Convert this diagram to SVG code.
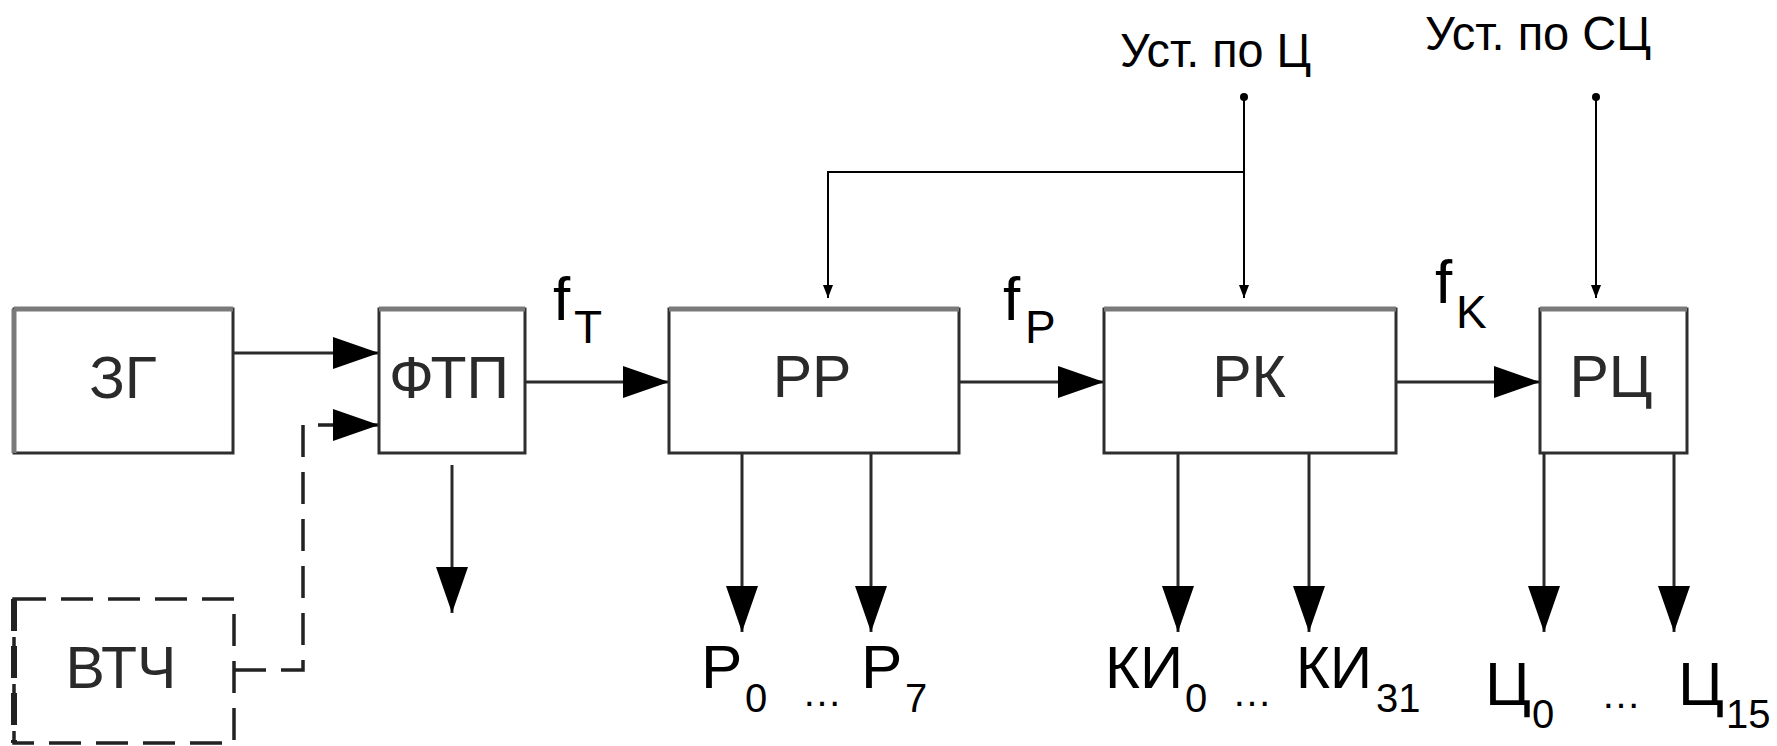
<svg xmlns="http://www.w3.org/2000/svg" width="1777" height="746" viewBox="0 0 1777 746">
<style>
.box{fill:#fff;stroke:#2e2e2e;stroke-width:3}
.top{stroke:#7a7a7a;stroke-width:5}
.dbox{fill:#fff;stroke:#222;stroke-width:3.5;stroke-dasharray:32 15}
.lbl{font-family:"Liberation Sans",Arial,sans-serif;font-size:59px;fill:#2a2a2a;text-anchor:middle}
.t{font-family:"Liberation Sans",Arial,sans-serif;fill:#000}
.c{fill:none;stroke:#2a2a2a;stroke-width:3}
.cd{fill:none;stroke:#222;stroke-width:3.5;stroke-dasharray:32 15}
.thin{fill:none;stroke:#000;stroke-width:2}
</style>
<defs>
<marker id="big" markerUnits="userSpaceOnUse" markerWidth="46" markerHeight="32" refX="46" refY="16" orient="auto" viewBox="0 0 46 32">
<path d="M0,0 L46,16 L0,32 z" fill="#000"/>
</marker>
<marker id="small" markerUnits="userSpaceOnUse" markerWidth="13" markerHeight="10" refX="13" refY="5" orient="auto" viewBox="0 0 13 10">
<path d="M0,0 L13,5 L0,10 z" fill="#000"/>
</marker>
</defs>

<g id="connectors">
<path class="c" d="M233,353 H379" marker-end="url(#big)"/>
<path class="cd" d="M234,670 H303 V425 H379" marker-end="url(#big)"/>
<path class="c" d="M452,465 V613" marker-end="url(#big)"/>
<path class="c" d="M525,382 H669" marker-end="url(#big)"/>
<path class="c" d="M959,382 H1104" marker-end="url(#big)"/>
<path class="c" d="M1396,382 H1540" marker-end="url(#big)"/>
<path class="c" d="M742,453 V632" marker-end="url(#big)"/>
<path class="c" d="M871,453 V632" marker-end="url(#big)"/>
<path class="c" d="M1178,453 V632" marker-end="url(#big)"/>
<path class="c" d="M1309,453 V632" marker-end="url(#big)"/>
<path class="c" d="M1544,453 V632" marker-end="url(#big)"/>
<path class="c" d="M1674,453 V632" marker-end="url(#big)"/>
<path class="thin" d="M1244,97 V298" marker-end="url(#small)"/>
<path class="thin" d="M1244,172 H828 V298" marker-end="url(#small)"/>
<path class="thin" d="M1596,97 V298" marker-end="url(#small)"/>
<circle cx="1244" cy="97" r="4" fill="#000"/>
<circle cx="1596" cy="97" r="4" fill="#000"/>
</g>

<g id="node-zg">
<rect class="box" x="14" y="309" width="219" height="144"/>
<line class="top" x1="14" y1="309" x2="233" y2="309"/>
<line class="top" x1="14" y1="309" x2="14" y2="453"/>
<text class="lbl" x="123" y="398">ЗГ</text>
</g>
<g id="node-ftp">
<rect class="box" x="379" y="309" width="146" height="144"/>
<line class="top" x1="379" y1="309" x2="525" y2="309"/>
<text class="lbl" x="449" y="398">ФТП</text>
</g>
<g id="node-rr">
<rect class="box" x="669" y="309" width="290" height="144"/>
<line class="top" x1="669" y1="309" x2="959" y2="309"/>
<text class="lbl" x="812" y="397">РР</text>
</g>
<g id="node-rk">
<rect class="box" x="1104" y="309" width="292" height="144"/>
<line class="top" x1="1104" y1="309" x2="1396" y2="309"/>
<text class="lbl" x="1249" y="397">РК</text>
</g>
<g id="node-rc">
<rect class="box" x="1540" y="309" width="147" height="144"/>
<line class="top" x1="1540" y1="309" x2="1687" y2="309"/>
<text class="lbl" x="1611" y="397">РЦ</text>
</g>
<g id="node-vtch">
<rect class="dbox" x="14" y="599" width="220" height="144"/>
<line x1="14" y1="599" x2="14" y2="743" stroke="#222" stroke-width="6" stroke-dasharray="32 15"/>
<text class="lbl" x="121" y="688">ВТЧ</text>
</g>

<g id="labels">
<text class="t" x="553" y="320" font-size="62">f<tspan x="574" y="343" font-size="46">T</tspan></text>
<text class="t" x="1003" y="320" font-size="62">f<tspan x="1025" y="343" font-size="46">P</tspan></text>
<text class="t" x="1435" y="303" font-size="62">f<tspan x="1456" y="328" font-size="46">K</tspan></text>

<text class="t" x="1120" y="67" font-size="48" textLength="191" lengthAdjust="spacingAndGlyphs">Уст. по Ц</text>
<text class="t" x="1425" y="50" font-size="48" textLength="226" lengthAdjust="spacingAndGlyphs">Уст. по СЦ</text>

<text class="t" x="701" y="688" font-size="62">P<tspan x="745" y="712" font-size="40">0</tspan></text>
<text class="t" x="802" y="706" font-size="40">…</text>
<text class="t" x="861" y="688" font-size="62">P<tspan x="905" y="712" font-size="40">7</tspan></text>

<text class="t" x="1105" y="688" font-size="60" textLength="78" lengthAdjust="spacingAndGlyphs">КИ</text>
<text class="t" x="1185" y="712" font-size="40">0</text>
<text class="t" x="1232" y="706" font-size="40">…</text>
<text class="t" x="1296" y="688" font-size="60" textLength="76" lengthAdjust="spacingAndGlyphs">КИ</text>
<text class="t" x="1376" y="712" font-size="40">31</text>

<text class="t" x="1485" y="705" font-size="62">Ц</text>
<text class="t" x="1532" y="728" font-size="40">0</text>
<text class="t" x="1601" y="708" font-size="40">…</text>
<text class="t" x="1678" y="705" font-size="62">Ц</text>
<text class="t" x="1726" y="728" font-size="40">15</text>
</g>
</svg>
